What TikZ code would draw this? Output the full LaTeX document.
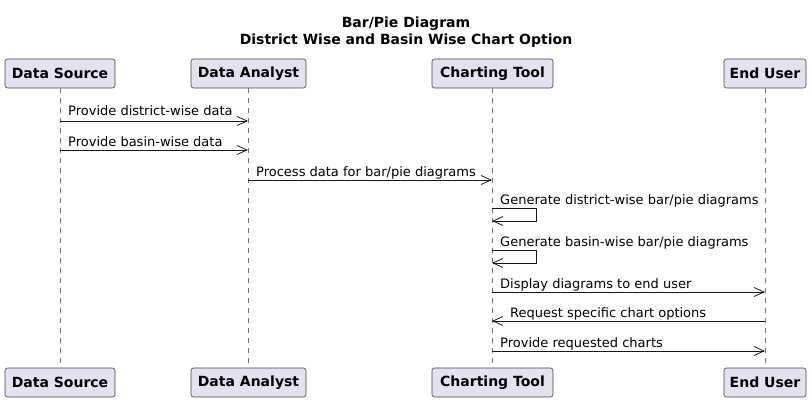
\documentclass[tikz,border=0pt]{standalone}
\usepackage{fontspec}
\setmainfont{DejaVu Sans}
\usetikzlibrary{arrows.meta}
\definecolor{partfill}{HTML}{E2E2F0}
\definecolor{partline}{HTML}{181818}
\begin{document}
\begin{tikzpicture}[x=1pt,y=-1pt,
  partbox/.style={draw=partline!80, fill=partfill, rounded corners=2.5pt, line width=0.6pt, minimum height=29pt, inner sep=0pt, font=\fontsize{14}{16}\selectfont\bfseries},
  lifeline/.style={draw=partline!60, dash pattern=on 5pt off 5pt, line width=0.5pt},
  msg/.style={draw=partline, line width=0.8pt, -{Straight Barb[length=10pt,width=9pt]}},
  msglabel/.style={anchor=base west, inner sep=0pt, font=\fontsize{13}{15}\selectfont}]
\useasboundingbox (0,0) rectangle (812,403);
\node[align=center, font=\fontsize{14}{17}\selectfont\bfseries] (title) at (406,32) {Bar/Pie Diagram\\District Wise and Basin Wise Chart Option};
% participants, top and bottom
\node[partbox, minimum width=110pt] (dsT) at (60,73.5) {Data Source};
\node[partbox, minimum width=115pt] (daT) at (248.5,73.5) {Data Analyst};
\node[partbox, minimum width=121pt] (ctT) at (492.5,73.5) {Charting Tool};
\node[partbox, minimum width=82pt] (euT) at (765,73.5) {End User};
\node[partbox, minimum width=110pt] (dsB) at (60,382.5) {Data Source};
\node[partbox, minimum width=115pt] (daB) at (248.5,382.5) {Data Analyst};
\node[partbox, minimum width=121pt] (ctB) at (492.5,382.5) {Charting Tool};
\node[partbox, minimum width=82pt] (euB) at (765,382.5) {End User};
\foreach \p in {ds,da,ct,eu}
  \draw[lifeline] (\p T.south) -- (\p B.north);
% message end points
\coordinate (m1a) at (60,121);  \coordinate (m1b) at (248,121);
\coordinate (m2a) at (60,150);  \coordinate (m2b) at (248,150);
\coordinate (m3a) at (248,180); \coordinate (m3b) at (492,180);
\coordinate (s1a) at (492,208); \coordinate (s1b) at (492,221);
\coordinate (s2a) at (492,250); \coordinate (s2b) at (492,263);
\coordinate (m6a) at (492,292); \coordinate (m6b) at (765,292);
\coordinate (m7a) at (765,321); \coordinate (m7b) at (492,321);
\coordinate (m8a) at (492,351); \coordinate (m8b) at (765,351);
% messages
\draw[msg] (m1a) -- (m1b);
\node[msglabel] (l1) at (68,115.5) {Provide district-wise data};
\draw[msg] (m2a) -- (m2b);
\node[msglabel] (l2) at (68,146.5) {Provide basin-wise data};
\draw[msg] (m3a) -- (m3b);
\node[msglabel] (l3) at (256,176.5) {Process data for bar/pie diagrams};
\draw[msg] (s1a) -- ++(44,0) -- ++(0,13) -- (s1b);
\node[msglabel] (l4) at (500,204.5) {Generate district-wise bar/pie diagrams};
\draw[msg] (s2a) -- ++(44,0) -- ++(0,13) -- (s2b);
\node[msglabel] (l5) at (500,246.5) {Generate basin-wise bar/pie diagrams};
\draw[msg] (m6a) -- (m6b);
\node[msglabel] (l6) at (500,289) {Display diagrams to end user};
\draw[msg] (m7a) -- (m7b);
\node[msglabel] (l7) at (510,318) {Request specific chart options};
\draw[msg] (m8a) -- (m8b);
\node[msglabel] (l8) at (500,347.5) {Provide requested charts};
\end{tikzpicture}
\end{document}
